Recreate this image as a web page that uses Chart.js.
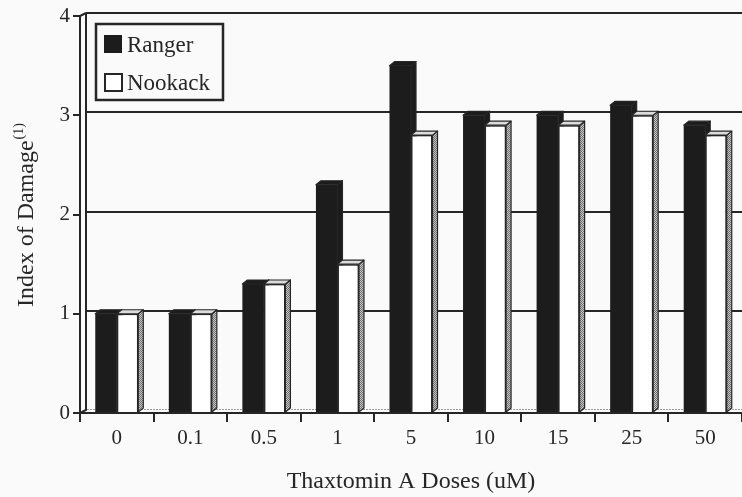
<!DOCTYPE html>
<html>
<head>
<meta charset="utf-8">
<script src="https://cdn.jsdelivr.net/npm/chart.js@4.4.1/dist/chart.umd.min.js"></script>
<style>
  html, body { margin: 0; padding: 0; background: #fafafa; overflow: hidden; }
  #wrap { position: relative; width: 742px; height: 497px; }
</style>
</head>
<body>
<div id="wrap"><canvas id="chart_damage"></canvas></div>
<script>
// data
var doses = ['0', '0.1', '0.5', '1', '5', '10', '15', '25', '50'];
var ranger = [1.0, 1.0, 1.3, 2.3, 3.5, 3.0, 3.0, 3.1, 2.9];
var nookack = [1.0, 1.0, 1.3, 1.5, 2.8, 2.9, 2.9, 3.0, 2.8];
var yTicks = [0, 1, 2, 3, 4];

var ink = '#262626';
var serif = "'Liberation Serif', 'Times New Roman', serif";
var DX = 5, DY = 4; // fake 3D depth

// stippled grey for the side faces
var stipple = (function () {
    var c = document.createElement('canvas');
    c.width = 2; c.height = 2;
    var g = c.getContext('2d');
    g.fillStyle = '#c8c8c8'; g.fillRect(0, 0, 2, 2);
    g.fillStyle = '#6e6e6e'; g.fillRect(0, 0, 1, 1); g.fillRect(1, 1, 1, 1);
    return g.createPattern(c, 'repeat');
})();

function drawDepth(ctx, bar, dark) {
    var p = bar.getProps(['x', 'y', 'base', 'width'], true);
    var l = p.x - p.width / 2, r = p.x + p.width / 2;
    // right side face
    ctx.beginPath();
    ctx.moveTo(r, p.y);
    ctx.lineTo(r + DX, p.y - DY);
    ctx.lineTo(r + DX, p.base - DY);
    ctx.lineTo(r, p.base);
    ctx.closePath();
    ctx.fillStyle = dark ? '#1c1c1c' : stipple;
    ctx.fill();
    ctx.stroke();
    // top face
    ctx.beginPath();
    ctx.moveTo(l, p.y);
    ctx.lineTo(l + DX, p.y - DY);
    ctx.lineTo(r + DX, p.y - DY);
    ctx.lineTo(r, p.y);
    ctx.closePath();
    ctx.fillStyle = dark ? '#1c1c1c' : '#dcdcdc';
    ctx.fill();
    ctx.stroke();
}

var depthPlugin = {
    id: 'barDepth',
    beforeDraw: function (chart) {
        var ctx = chart.ctx;
        ctx.save();
        ctx.fillStyle = '#fafafa';
        ctx.fillRect(0, 0, chart.width, chart.height);
        ctx.restore();
    },
    beforeDatasetsDraw: function (chart) {
        var ctx = chart.ctx, a = chart.chartArea, ys = chart.scales.y;
        ctx.save();
        ctx.strokeStyle = ink;
        ctx.lineWidth = 2;
        // back wall grid lines
        yTicks.forEach(function (v) {
            if (v === 0) return;
            var py = Math.round(ys.getPixelForValue(v) - 3);
            ctx.beginPath();
            ctx.moveTo(a.left + DX + 1, py);
            ctx.lineTo(a.right + 2, py);
            ctx.stroke();
        });
        // side wall
        ctx.beginPath();
        ctx.moveTo(a.left + DX + 1, ys.getPixelForValue(4) - 3);
        ctx.lineTo(a.left + DX + 1, a.bottom - DY + 1);
        ctx.lineTo(a.left, a.bottom);
        ctx.moveTo(a.left, a.top);
        ctx.lineTo(a.left + DX + 1, a.top - 3);
        ctx.stroke();
        // floor
        ctx.strokeStyle = '#9a9a9a';
        ctx.lineWidth = 1;
        ctx.setLineDash([2, 1]);
        ctx.beginPath();
        ctx.moveTo(a.left + DX + 2, a.bottom - 3.5);
        ctx.lineTo(a.right, a.bottom - 3.5);
        ctx.stroke();
        ctx.restore();
    },
    afterDatasetsDraw: function (chart) {
        // black bars sit behind the white ones: draw black depth first,
        // then repaint the white bars with their depth on top
        var ctx = chart.ctx;
        var dark = chart.getDatasetMeta(0), light = chart.getDatasetMeta(1);
        ctx.save();
        ctx.strokeStyle = ink;
        ctx.lineWidth = 1.2;
        ctx.lineJoin = 'round';
        dark.data.forEach(function (bar) { drawDepth(ctx, bar, true); });
        light.data.forEach(function (bar) {
            ctx.save();
            bar.draw(ctx, chart.chartArea);
            ctx.restore();
            drawDepth(ctx, bar, false);
        });
        ctx.restore();
    },
    afterDraw: function (chart) {
        var ctx = chart.ctx;
        ctx.save();
        // legend box
        ctx.strokeStyle = ink;
        ctx.lineWidth = 2.5;
        ctx.strokeRect(96, 24, 127, 76);
        ctx.fillStyle = '#1c1c1c';
        ctx.fillRect(104, 35, 18, 18);
        ctx.lineWidth = 2;
        ctx.fillStyle = '#ffffff';
        ctx.fillRect(105, 74, 17, 17);
        ctx.strokeRect(105, 74, 17, 17);
        ctx.fillStyle = ink;
        ctx.font = '23px ' + serif;
        ctx.textBaseline = 'alphabetic';
        ctx.fillText(chart.data.datasets[0].label, 127, 52);
        ctx.fillText(chart.data.datasets[1].label, 127, 90);
        // y axis title with superscript
        ctx.translate(33, 307);
        ctx.rotate(-Math.PI / 2);
        ctx.font = '24px ' + serif;
        var main = 'Index of Damage';
        ctx.fillText(main, 0, 0);
        var w = ctx.measureText(main).width;
        ctx.font = '14px ' + serif;
        ctx.fillText('(1)', w + 1, -10);
        ctx.restore();
    }
};

var chart_damage = new Chart(document.getElementById('chart_damage'), {
    type: 'bar',
    data: {
        labels: doses,
        datasets: [
            {
                label: 'Ranger',
                data: ranger,
                backgroundColor: '#1c1c1c',
                borderWidth: 0
            },
            {
                label: 'Nookack',
                data: nookack,
                backgroundColor: '#ffffff',
                borderColor: ink,
                borderWidth: 1.5
            }
        ]
    },
    options: {
        animation: false,
        responsive: true,
        maintainAspectRatio: false,
        devicePixelRatio: 1,
        categoryPercentage: 0.585,
        barPercentage: 1.0,
        layout: { padding: { top: 16, right: 0, left: 0, bottom: 0 } },
        plugins: {
            legend: { display: false },
            tooltip: { enabled: false }
        },
        scales: {
            x: {
                offset: true,
                grid: {
                    offset: true,
                    drawOnChartArea: false,
                    drawTicks: true,
                    tickLength: 9,
                    color: ink,
                    lineWidth: 2
                },
                border: { display: true, color: ink, width: 2 },
                ticks: {
                    color: ink,
                    padding: 4,
                    font: { family: serif, size: 21 }
                },
                title: {
                    display: true,
                    text: 'Thaxtomin A Doses (uM)',
                    color: ink,
                    font: { family: serif, size: 24 },
                    padding: { top: 0, bottom: 1 }
                },
                afterFit: function (scale) { scale.height = 84; }
            },
            y: {
                min: 0,
                max: 4,
                ticks: {
                    stepSize: 1,
                    color: ink,
                    padding: 3,
                    font: { family: serif, size: 21 }
                },
                grid: {
                    drawOnChartArea: false,
                    drawTicks: true,
                    tickLength: 7,
                    color: ink,
                    lineWidth: 2
                },
                border: { display: true, color: ink, width: 2 },
                afterFit: function (scale) { scale.width = 80; }
            }
        }
    },
    plugins: [depthPlugin]
});
</script>
</body>
</html>
